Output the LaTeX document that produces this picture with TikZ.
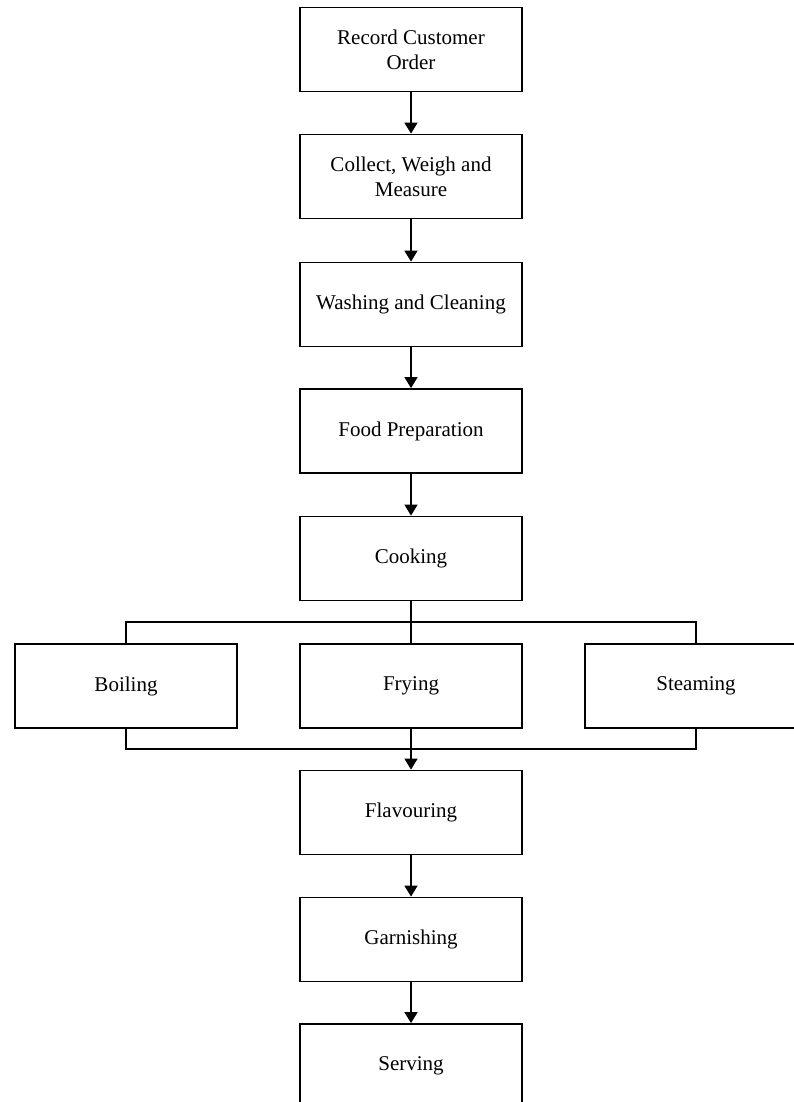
\documentclass[tikz,border=0pt]{standalone}
\usepackage{fontspec}
\setmainfont{Liberation Serif}
\usetikzlibrary{arrows.meta}
\begin{document}
\begin{tikzpicture}[x=1pt,y=-1pt,
  stage/.style={draw, line width=1.8pt, minimum width=222pt, minimum height=84pt,
    align=center, inner sep=0pt, font=\fontsize{21}{25}\selectfont},
  flow/.style={line width=1.5pt, -{Triangle[width=13pt,length=11pt]}},
  link/.style={line width=1.2pt}]
\useasboundingbox (0,0) rectangle (793,1102);

% main sequence
\node[stage] (order) at (411,49.5)  {Record Customer\\Order};
\node[stage] (weigh) at (411,176.5) {Collect, Weigh and\\Measure};
\node[stage] (wash)  at (411,304.5) {Washing and Cleaning};
\node[stage] (prep)  at (411,431)   {Food Preparation};
\node[stage] (cook)  at (411,558.5) {Cooking};

% cooking methods
\node[stage] (boil)  at (126,686) {Boiling};
\node[stage] (fry)   at (411,686) {Frying};
\node[stage] (steam) at (696,686) {Steaming};

% finishing steps
\node[stage] (flav)  at (411,812.5) {Flavouring};
\node[stage] (garn)  at (411,939.5) {Garnishing};
\node[stage] (serve) at (411,1066)  {Serving};

\coordinate (split) at (411,622);
\coordinate (join)  at (411,749);

\draw[flow] (order) -- (weigh);
\draw[flow] (weigh) -- (wash);
\draw[flow] (wash)  -- (prep);
\draw[flow] (prep)  -- (cook);

\draw[link] (cook.south) -- (split);
\draw[link] (boil.north) |- (split) -| (steam.north);
\draw[link] (split) -- (fry.north);
\draw[link] (boil.south) |- (join) -| (steam.south);

\draw[flow] (fry.south) -- (flav.north);
\draw[flow] (flav) -- (garn);
\draw[flow] (garn) -- (serve);
\end{tikzpicture}
\end{document}
